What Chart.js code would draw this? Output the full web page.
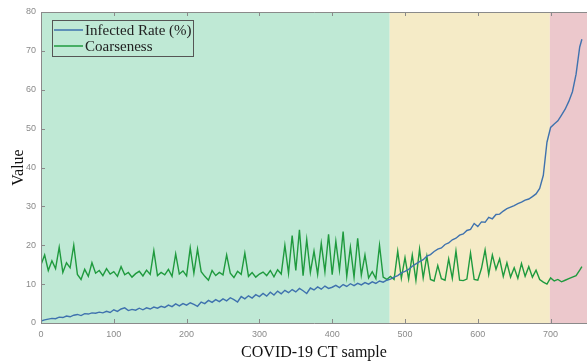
<!DOCTYPE html>
<html lang="en">
<head>
  <meta charset="UTF-8"/>
  <title>Infected rate and coarseness</title>
  <script src="https://cdn.jsdelivr.net/npm/chart.js"></script>
  <style>
    html, body { margin: 0; padding: 0; background: #fff; }
    #wrap { width: 587px; height: 362px; }
  </style>
</head>
<body>
<div id="wrap"><canvas id="chart"></canvas></div>
<script>
  // sample numbers (x) read every 5 samples
  const sampleNo = [
    0,5,10,15,20,25,30,35,40,45,50,55,60,65,70,75,80,85,90,95,
    100,105,110,115,120,125,130,135,140,145,150,155,160,165,170,175,180,185,190,195,
    200,205,210,215,220,225,230,235,240,245,250,255,260,265,270,275,280,285,290,295,
    300,305,310,315,320,325,330,335,340,345,350,355,360,365,370,375,380,385,390,395,
    400,405,410,415,420,425,430,435,440,445,450,455,460,465,470,475,480,485,490,495,
    500,505,510,515,520,525,530,535,540,545,550,555,560,565,570,575,580,585,590,595,
    600,605,610,615,620,625,630,635,640,645,650,655,660,665,670,675,680,685,690,695,
    700,705,710,715,720,725,730,735,740,743
  ];
  const infectedRate = [
    0.5,0.8,1.0,1.2,1.1,1.5,1.4,1.8,1.6,2.0,2.2,1.9,2.4,2.3,2.6,2.5,2.8,2.6,3.0,2.7,
    3.4,3.0,3.6,3.9,3.2,3.5,3.3,3.8,3.4,3.9,3.6,4.1,3.8,4.3,4.0,4.6,4.2,4.9,4.4,5.0,
    4.6,5.2,4.8,4.3,5.4,5.0,5.8,5.3,6.0,5.5,6.2,5.7,6.5,6.0,5.4,6.8,6.2,7.0,6.4,7.3,
    6.8,7.6,6.9,7.9,7.2,8.2,7.5,8.4,7.8,8.6,8.0,8.9,8.3,7.6,9.0,8.5,9.3,8.7,9.5,8.9,
    9.2,9.7,9.1,9.9,9.4,10.1,9.6,10.2,9.8,10.4,10.0,10.6,10.2,10.8,10.5,11.0,11.3,11.8,12.2,12.9,
    13.3,13.8,14.6,15.2,15.8,16.3,17.2,17.6,18.4,19.0,19.3,20.2,20.6,21.4,21.8,22.6,22.9,23.8,24.1,25.6,
    24.8,26.0,25.9,27.2,26.8,27.9,28.0,28.8,29.4,29.8,30.2,30.7,31.1,31.6,31.9,32.5,33.2,34.6,38.0,46.5,
    50.3,51.2,52.0,53.5,55.0,57.0,59.5,64.0,71.0,73.0
  ];
  const coarseness = [
    15.0,17.5,13.5,16.0,14.0,19.5,13.0,15.5,14.2,20.0,12.5,11.2,13.8,12.0,15.5,12.8,13.5,12.2,14.0,12.6,
    13.2,12.0,14.5,12.4,13.0,11.8,12.7,13.3,12.1,13.6,12.5,18.6,12.2,13.0,12.4,13.8,12.0,17.8,12.6,13.4,
    12.1,19.3,12.8,19.0,13.2,12.0,11.0,13.5,12.2,13.0,12.4,17.5,12.8,11.7,13.3,12.5,18.0,12.0,13.0,11.8,
    12.6,13.1,12.2,13.5,11.9,13.7,12.6,20.0,12.8,22.5,13.5,24.0,12.2,21.5,13.0,18.5,12.5,20.5,13.2,22.8,
    12.4,21.0,13.6,23.5,12.0,19.5,11.8,21.8,12.3,17.5,11.6,13.2,11.4,20.0,11.8,11.2,12.0,11.2,18.5,11.5,
    16.8,11.3,17.5,11.0,19.0,11.6,17.2,11.2,10.8,14.8,11.4,11.0,16.5,11.5,18.5,11.0,10.9,11.3,18.0,11.2,
    11.0,14.0,18.8,12.5,17.5,13.8,16.5,12.0,15.5,11.8,14.2,11.5,15.3,12.0,14.5,11.8,13.6,11.2,10.5,10.0,
    11.6,10.8,11.2,10.6,11.0,11.4,11.8,12.2,13.6,14.5
  ];
  const seriesNames = ['Infected Rate (%)', 'Coarseness'];
  const seriesColors = ['#3f72ae', '#1f9a3e'];
  // background phases: boundaries in sample numbers
  const phaseEdges = [0, 479, 699, 750];
  const phaseColors = ['#bfe9d5', '#f5ebc7', '#ecc8cc'];
  const xTicks = [0, 100, 200, 300, 400, 500, 600, 700];
  const yTicks = [0, 10, 20, 30, 40, 50, 60, 70, 80];

  const serif = '"Liberation Serif", "Times New Roman", serif';

  const bgPlugin = {
    id: 'phases',
    beforeDatasetsDraw(chart) {
      const { ctx, chartArea: a, scales: { x } } = chart;
      ctx.save();
      for (let i = 0; i < phaseColors.length; i++) {
        const x0 = x.getPixelForValue(phaseEdges[i]);
        const x1 = x.getPixelForValue(phaseEdges[i + 1]);
        ctx.fillStyle = phaseColors[i];
        ctx.fillRect(x0, a.top, x1 - x0, a.bottom - a.top);
      }
      ctx.restore();
    },
    afterDatasetsDraw(chart) {
      const { ctx, chartArea: a, scales: { x, y } } = chart;
      ctx.save();
      // frame + inward ticks
      ctx.strokeStyle = '#8a8a8a';
      ctx.lineWidth = 1;
      ctx.beginPath();
      ctx.moveTo(a.left + 0.5, a.top + 0.5);
      ctx.lineTo(a.right, a.top + 0.5);
      ctx.moveTo(a.left + 0.5, a.top);
      ctx.lineTo(a.left + 0.5, a.bottom + 0.5);
      ctx.lineTo(a.right, a.bottom + 0.5);
      xTicks.forEach(v => {
        const px = Math.round(x.getPixelForValue(v)) + 0.5;
        ctx.moveTo(px, a.bottom); ctx.lineTo(px, a.bottom - 4);
        ctx.moveTo(px, a.top); ctx.lineTo(px, a.top + 4);
      });
      yTicks.forEach(v => {
        const py = Math.round(y.getPixelForValue(v)) + 0.5;
        ctx.moveTo(a.left, py); ctx.lineTo(a.left + 4, py);
      });
      ctx.stroke();

      // legend box
      const lx = 52, ly = 20, lw = 141, lh = 36;
      ctx.strokeStyle = '#555';
      ctx.strokeRect(lx + 0.5, ly + 0.5, lw, lh);
      ctx.font = '15px ' + serif;
      ctx.textBaseline = 'middle';
      ctx.fillStyle = '#222';
      chart.data.datasets.forEach((ds, i) => {
        const ry = ly + 10 + i * 16;
        ctx.strokeStyle = ds.borderColor;
        ctx.lineWidth = 1.5;
        ctx.beginPath();
        ctx.moveTo(lx + 2, ry); ctx.lineTo(lx + 31, ry);
        ctx.stroke();
        ctx.fillText(ds.label, lx + 33, ry + 1);
      });
      ctx.restore();
    }
  };

  const toPoints = vals => sampleNo.map((s, i) => ({ x: s, y: vals[i] }));

  new Chart(document.getElementById('chart'), {
    type: 'line',
    data: {
      datasets: [
        { label: seriesNames[0], data: toPoints(infectedRate), borderColor: seriesColors[0],
          borderWidth: 1.4, pointRadius: 0, tension: 0 },
        { label: seriesNames[1], data: toPoints(coarseness), borderColor: seriesColors[1],
          borderWidth: 1.4, pointRadius: 0, tension: 0 }
      ]
    },
    options: {
      responsive: true,
      maintainAspectRatio: false,
      animation: false,
      layout: { padding: { top: 12, right: 0, left: 0, bottom: 0 } },
      plugins: { legend: { display: false }, tooltip: { enabled: false } },
      scales: {
        x: {
          type: 'linear', min: 0, max: 750,
          afterBuildTicks: s => { s.ticks = xTicks.map(v => ({ value: v })); },
          afterFit: s => { s.height = 39; },
          grid: { display: false, drawTicks: false },
          border: { display: false },
          ticks: { color: '#8a8a8a', font: { family: 'Arial, "Liberation Sans"', size: 9 }, padding: 6, maxRotation: 0 },
          title: { display: true, text: 'COVID-19 CT sample', color: '#111',
            font: { family: serif, size: 16 }, padding: { top: 0, bottom: 0 } }
        },
        y: {
          min: 0, max: 80,
          afterBuildTicks: s => { s.ticks = yTicks.map(v => ({ value: v })); },
          afterFit: s => { s.width = 41; },
          grid: { display: false, drawTicks: false },
          border: { display: false },
          ticks: { color: '#8a8a8a', font: { family: 'Arial, "Liberation Sans"', size: 9 }, padding: 5 },
          title: { display: true, text: 'Value', color: '#111',
            font: { family: serif, size: 16 }, padding: { top: 9, bottom: 0 } }
        }
      }
    },
    plugins: [bgPlugin]
  });
</script>
</body>
</html>
